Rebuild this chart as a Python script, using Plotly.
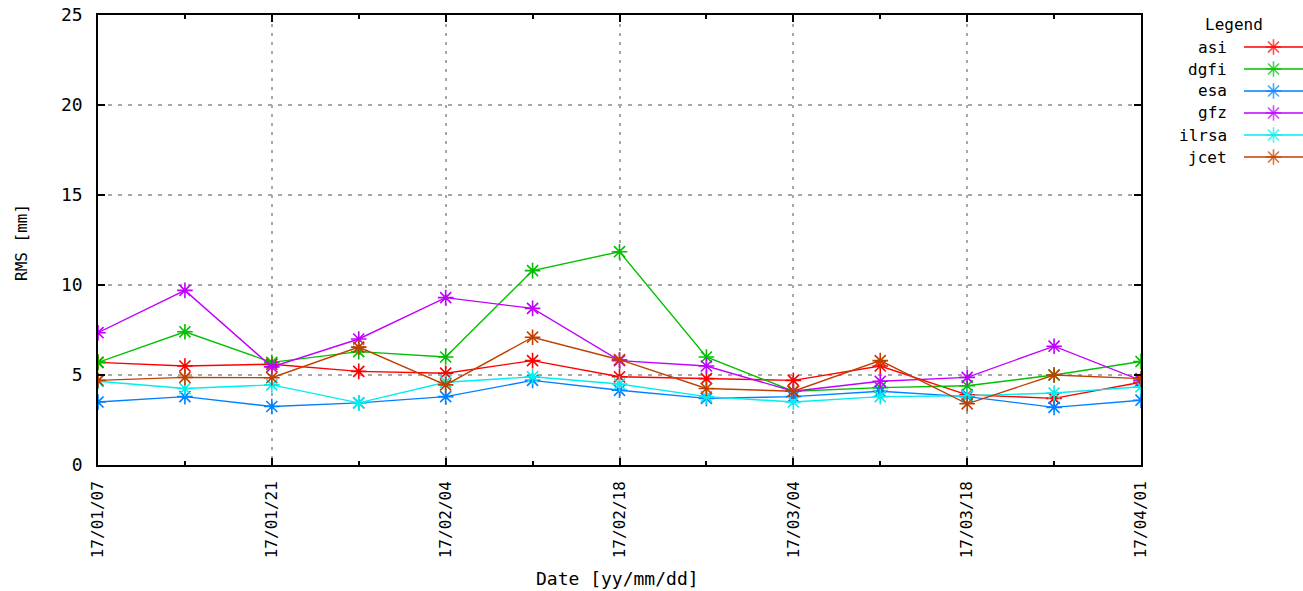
import plotly.graph_objects as go

W, H = 1303, 591

dates = ["2017-01-07", "2017-01-14", "2017-01-21", "2017-01-28", "2017-02-04",
         "2017-02-11", "2017-02-18", "2017-02-25", "2017-03-04", "2017-03-11",
         "2017-03-18", "2017-03-25", "2017-04-01"]

asi = [5.7, 5.5, 5.6, 5.2, 5.1, 5.8, 4.9, 4.8, 4.7, 5.5, 3.9, 3.7, 4.6]
dgfi = [5.7, 7.4, 5.7, 6.3, 6.0, 10.8, 11.85, 6.0, 4.1, 4.3, 4.4, 5.0, 5.75]
esa = [3.5, 3.8, 3.25, 3.45, 3.8, 4.7, 4.15, 3.7, 3.8, 4.1, 3.8, 3.2, 3.6]
gfz = [7.35, 9.7, 5.45, 7.0, 9.3, 8.7, 5.8, 5.5, 4.1, 4.65, 4.87, 6.6, 4.7]
ilrsa = [4.65, 4.25, 4.45, 3.45, 4.6, 4.9, 4.5, 3.8, 3.5, 3.8, 3.85, 4.0, 4.35]
jcet = [4.7, 4.87, 4.85, 6.55, 4.45, 7.1, 5.85, 4.25, 4.1, 5.8, 3.4, 5.0, 4.8]

series_names = ["asi", "dgfi", "esa", "gfz", "ilrsa", "jcet"]
series_values = [asi, dgfi, esa, gfz, ilrsa, jcet]
colors = ["#ff0000", "#00c000", "#0080ff", "#c000ff", "#00eeee", "#c04000"]

FONT = "DejaVu Sans Mono"

# plot-area box in pixels
L, R, T, B = 98, 1141, 15, 465

fig = go.Figure()

for name, vals, c in zip(series_names, series_values, colors):
    fig.add_trace(go.Scatter(
        x=dates, y=vals, name=name, mode="lines+markers",
        line=dict(color=c, width=1.4),
        marker=dict(symbol="asterisk-open", size=13, line=dict(color=c, width=1.6)),
        showlegend=False, xaxis="x", yaxis="y",
    ))

# hand-built key: label on the left, line sample with marker on the right
rows = [47, 69, 91, 113, 135, 157]
for name, c, ry in zip(series_names, colors, rows):
    fig.add_trace(go.Scatter(
        x=[0, 0.5, 1], y=[ry, ry, ry], mode="lines+markers",
        line=dict(color=c, width=1.4),
        marker=dict(symbol="asterisk-open", size=[0, 13, 0],
                    line=dict(color=c, width=1.6)),
        showlegend=False, hoverinfo="skip", xaxis="x2", yaxis="y2",
    ))
    fig.add_annotation(text=name, x=1229 / W, y=1 - ry / H, xref="paper", yref="paper",
                       xanchor="right", yanchor="middle", showarrow=False,
                       font=dict(family=FONT, size=16, color="black"))

fig.add_annotation(text="Legend", x=1234 / W, y=1 - 25 / H, xref="paper", yref="paper",
                   xanchor="center", yanchor="middle", showarrow=False,
                   font=dict(family=FONT, size=16, color="black"))

# axis titles
fig.add_annotation(text="Date [yy/mm/dd]", x=617 / W, y=1 - 578 / H, xref="paper", yref="paper",
                   xanchor="center", yanchor="middle", showarrow=False,
                   font=dict(family=FONT, size=18, color="black"))
fig.add_annotation(text="RMS [mm]", x=21 / W, y=1 - 243 / H, xref="paper", yref="paper",
                   xanchor="center", yanchor="middle", showarrow=False, textangle=-90,
                   font=dict(family=FONT, size=16, color="black"))

WEEK = 7 * 24 * 3600 * 1000

fig.update_layout(
    width=W, height=H,
    margin=dict(l=0, r=0, t=0, b=0),
    paper_bgcolor="white", plot_bgcolor="white",
    font=dict(family=FONT, size=16, color="black"),
    xaxis=dict(
        domain=[L / W, R / W], anchor="y",
        type="date", range=[dates[0], dates[-1]],
        tick0=dates[0], dtick=2 * WEEK, tickformat="%y/%m/%d", tickangle=-90,
        ticks="inside", ticklen=7, tickcolor="black", tickwidth=1.6,
        showline=True, linecolor="black", linewidth=1.6, mirror="allticks",
        showgrid=True, gridcolor="#a8a8a8", griddash="3px,6px", gridwidth=1.5,
        minor=dict(dtick=WEEK, tick0=dates[0], ticks="inside", ticklen=4,
                   tickcolor="black", showgrid=False),
        zeroline=False, automargin=False, ticklabelstandoff=8,
        tickfont=dict(family=FONT, size=16),
    ),
    yaxis=dict(
        domain=[1 - B / H, 1 - T / H], anchor="x",
        range=[0, 25], dtick=5, tick0=0,
        ticks="inside", ticklen=7, tickcolor="black", tickwidth=1.6,
        showline=True, linecolor="black", linewidth=1.6, mirror="allticks",
        showgrid=True, gridcolor="#a8a8a8", griddash="4px,6px", gridwidth=1.5,
        zeroline=False, automargin=False, ticklabelstandoff=10,
        tickfont=dict(family=FONT, size=18),
    ),
    xaxis2=dict(domain=[1244 / W, 1.0], range=[0, 1], visible=False,
                anchor="y2", fixedrange=True),
    yaxis2=dict(domain=[0, 1], range=[H, 0], visible=False,
                anchor="x2", fixedrange=True),
)

fig.write_html("out.html")
